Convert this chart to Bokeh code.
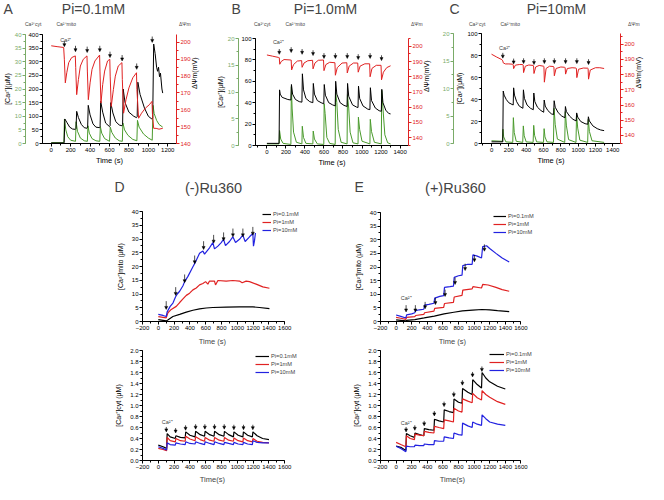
import math
from bokeh.plotting import figure
from bokeh.models import (Range1d, LinearAxis, Legend, LegendItem, Label, Arrow, NormalHead,
                          ColumnDataSource, SingleIntervalTicker, Spacer, PrintfTickFormatter, Title)
from bokeh.layouts import row, column
from bokeh.embed import file_html
from bokeh.resources import INLINE

# ======================= DATA =======================
a_t_cyt = [0, 130, 136, 150, 170, 200, 250, 256, 270, 300, 340, 372, 378, 392, 420, 460, 500,
           506, 520, 550, 600, 608, 625, 660, 700, 732, 738, 755, 790, 840, 882, 888, 905, 950,
           1000, 1040, 1048, 1060, 1085, 1110, 1148]
a_cyt = [0.3, 0.3, 9, 5, 2.5, 1.2, 0.8, 8, 4.5, 2, 1, 0.8, 6.5, 3.8, 1.8, 1, 0.8,
         6.2, 3.8, 1.8, 0.8, 6, 4, 2, 1, 0.8, 7.5, 5, 3, 1.5, 1, 8.5, 6, 3.5,
         2, 1.2, 14, 11, 8.5, 7, 6]
a_t_mito = [0, 125, 133, 140, 160, 190, 220, 248, 255, 262, 280, 310, 340, 368, 375, 381, 400,
            430, 460, 498, 503, 509, 530, 560, 600, 606, 613, 635, 665, 700, 728, 735, 741, 760,
            800, 850, 878, 885, 892, 915, 960, 1000, 1035, 1045, 1055, 1070, 1085, 1095, 1105,
            1115, 1125, 1140, 1148]
a_mito = [2, 2, 3, 90, 78, 60, 53, 52, 55, 118, 95, 70, 58, 56, 60, 140, 105,
          72, 60, 58, 62, 155, 115, 75, 62, 65, 150, 112, 80, 68, 65, 70, 200, 150,
          115, 100, 95, 98, 225, 180, 130, 100, 90, 95, 365, 330, 280, 265, 280,
          245, 258, 200, 185]
a_t_psi = [0, 60, 128, 135, 145, 160, 180, 210, 248, 252, 262, 280, 300, 330, 368, 372, 382,
           400, 420, 450, 498, 502, 512, 530, 550, 580, 603, 607, 618, 640, 660, 690, 728, 732,
           745, 770, 800, 840, 878, 882, 900, 930, 970, 1010, 1038, 1042, 1055, 1080, 1110, 1148]
a_psi = [198, 197.5, 197, 190, 176, 182, 188, 191, 192, 185, 169, 178, 186, 190, 192, 183, 166,
         176, 184, 189, 192.5, 183, 164, 175, 183, 189, 190, 180, 162, 172, 180, 186, 188, 178,
         158, 166, 173, 179, 182, 172, 155, 158, 161, 163, 165, 158, 149, 149, 148.5, 149]
a_add_t = [135, 250, 370, 500, 605, 730, 880, 1040]
a_add_psi = [197.5, 194.5, 194, 194.5, 191, 189, 184, 200]

b_t_cyt = [0, 128, 133, 145, 170, 252, 257, 265, 280, 310, 368, 372, 385, 410, 483, 487, 500,
           530, 598, 602, 612, 630, 660, 718, 722, 735, 750, 780, 843, 847, 860, 875, 905, 958,
           962, 975, 1000, 1083, 1087, 1100, 1130, 1203, 1207, 1220, 1240, 1270, 1300]
b_cyt = [0.3, 0.3, 2.8, 1.2, 0.4, 0.2, 11, 7, 2.5, 0.6, 0.3, 3.6, 1.5, 0.4, 0.3, 2.7, 1.2,
         0.3, 0.2, 7.8, 6, 1.5, 0.4, 0.2, 10, 8, 3, 0.6, 0.3, 9.5, 7, 2.5, 0.5, 0.3,
         5.3, 3, 0.8, 0.3, 4.9, 2.6, 0.6, 0.3, 10.3, 7, 2, 0.5, 0.3]
b_t_mito = [0, 128, 133, 140, 160, 190, 220, 252, 258, 270, 300, 340, 368, 373, 385, 410, 450,
            483, 488, 500, 530, 570, 598, 603, 615, 650, 690, 718, 723, 735, 770, 810, 843, 848,
            860, 900, 940, 958, 963, 975, 1010, 1060, 1083, 1088, 1100, 1140, 1180, 1203, 1208,
            1220, 1250, 1280, 1300]
b_mito = [2, 2, 52, 48, 45, 44, 43, 42.5, 57, 48, 43, 41, 40.5, 67, 52, 44, 41,
          40, 58, 48, 42, 40, 39, 57, 47, 40, 38, 37, 60, 48, 40, 37.5, 36.5, 58,
          46, 38, 36, 35.5, 55.5, 44, 37, 34, 33.5, 54, 42, 35, 32.5, 32, 52.5,
          40, 33, 30, 29.5]
b_t_psi = [0, 60, 120, 130, 135, 150, 180, 250, 255, 260, 280, 320, 365, 370, 390, 430, 480,
           485, 505, 540, 595, 600, 620, 660, 715, 720, 740, 790, 840, 845, 865, 910, 955, 960,
           980, 1030, 1080, 1085, 1105, 1150, 1200, 1205, 1225, 1260, 1300]
b_psi = [194.3, 193.5, 192.7, 192.5, 188.2, 190, 191.3, 191, 191, 184.5, 188, 190.3, 190.6,
         186.2, 189, 190.5, 190.8, 185.2, 189, 190.8, 191, 184, 188, 189.5, 189.2, 181, 186,
         189, 189.2, 182.5, 187, 189, 189, 183, 187, 188.5, 188.5, 180, 185.5, 187.5, 187.5,
         178, 183, 186, 187.2]
b_add_t = [130, 255, 370, 485, 600, 720, 845, 960, 1085, 1205]
b_add_psi = [194.7, 195.9, 194.7, 193.9, 192, 192, 192, 191.3, 192, 190.6]

c_t_cyt = [0, 125, 132, 140, 165, 245, 252, 262, 285, 360, 367, 377, 400, 480, 487, 497, 520,
           600, 607, 617, 640, 715, 722, 735, 760, 845, 852, 865, 890, 975, 982, 995, 1020,
           1110, 1117, 1130, 1160, 1300]
c_cyt = [0.5, 0.4, 2.6, 1.2, 0.3, 0.2, 4.7, 2, 0.4, 0.2, 3.2, 1.4, 0.3, 0.2, 3.3, 1.5, 0.3,
         0.2, 2.7, 1.2, 0.3, 0.2, 6.4, 3.5, 0.8, 0.2, 5.8, 3.2, 0.7, 0.2, 5.3, 2.8, 0.6,
         0.2, 4.4, 2.2, 0.5, 0.2]
c_t_mito = [0, 130, 135, 145, 170, 200, 250, 255, 265, 290, 320, 362, 368, 380, 410, 450, 482,
            488, 500, 530, 570, 602, 608, 620, 650, 690, 717, 723, 735, 770, 810, 847, 853, 865,
            900, 940, 977, 983, 995, 1030, 1080, 1112, 1118, 1130, 1170, 1220, 1260, 1300]
c_mito = [1.5, 1.5, 47.7, 44, 40, 37, 35, 50.6, 44, 38, 34, 32, 48.8, 41, 35, 32, 30.7,
          45.9, 38, 33, 30, 28.4, 39.5, 34, 30, 27, 26.3, 38.9, 33, 28, 25, 23.4, 33.6, 29,
          25, 22, 20.5, 27.8, 24, 20, 18, 17.5, 24.3, 20.5, 16, 13.5, 12.3, 11.7]
c_t_psi = [0, 60, 120, 130, 135, 160, 200, 245, 250, 255, 275, 320, 360, 365, 370, 390, 430,
           480, 485, 490, 510, 550, 600, 605, 610, 630, 670, 715, 720, 725, 745, 800, 845, 850,
           855, 875, 930, 975, 980, 985, 1005, 1060, 1110, 1115, 1120, 1140, 1200, 1250, 1300]
c_psi = [193.4, 191.5, 189.8, 189, 187.7, 187, 187, 186.8, 186.5, 183.9, 186.2, 186.6, 186.6,
         186.3, 181.3, 185.5, 186.3, 186, 185.8, 180.7, 185, 186, 185.5, 185.3, 175, 184, 185.5,
         185.3, 185, 179.2, 184, 185, 184.8, 184.5, 180.3, 184, 184.5, 184.3, 184, 178, 183.5,
         184.3, 184.2, 184, 177, 183, 184.5, 184.5, 184]
c_add_t = [130, 255, 370, 490, 610, 725, 855, 985, 1120]
c_add_psi = [190.8, 187, 187.2, 186.6, 187.2, 187.2, 187.2, 187.2, 186.6]

d_mito_t_01 = [0, 100, 125, 185, 270, 354, 438, 522, 606, 690, 859, 1027, 1196, 1280, 1406]
d_mito_01 = [0.7, 0.2, 0.6, 1.8, 2.6, 3.4, 4.1, 4.6, 4.9, 5.1, 5.2, 5.3, 5.3, 5.1, 4.7]
d_mito_t_1 = [0, 60, 100, 122, 164, 227, 270, 312, 354, 396, 438, 480, 522, 564, 598, 627, 648,
              711, 724, 754, 859, 943, 1027, 1061, 1111, 1154, 1238, 1322, 1406]
d_mito_1 = [1.8, 1.5, 1.3, 3.2, 4.4, 5.5, 6.9, 8.2, 9.5, 10.3, 11.5, 12.2, 13.3, 13.8, 14.5,
            13.6, 14.7, 14.7, 13.3, 14.9, 14.7, 14.9, 14.7, 14.1, 14.7, 14.5, 13.6, 12.6, 12.1]
d_mito_t_10 = [0, 60, 100, 112, 150, 185, 219, 240, 270, 312, 333, 375, 438, 470, 522, 564, 585,
               615, 648, 690, 711, 754, 796, 825, 850, 901, 943, 977, 1027, 1069, 1099, 1154,
               1196, 1204, 1217, 1229]
d_mito_10 = [2.6, 2.2, 1.8, 3.5, 5.5, 6.7, 9, 10, 11, 13, 14.5, 16.4, 19.9, 21.6, 24.8, 25.6,
             24.5, 25.6, 26.8, 28.7, 26.4, 27.4, 28.7, 29.9, 27.6, 29.1, 30.8, 28.7, 29.9, 31.4,
             29.1, 30.8, 32, 27.4, 29.4, 32.2]
d_mito_add_t = [100, 220, 333, 460, 573, 700, 826, 944, 1070, 1196]
d_mito_add_v = [4.4, 9.5, 14.1, 21, 26.2, 28.5, 29.4, 30.8, 30.8, 31.4]

d_cyt_t = [0, 60, 105, 112, 150, 215, 222, 280, 340, 347, 400, 465, 472, 530, 585, 592, 650,
           705, 712, 770, 830, 837, 890, 950, 957, 1010, 1070, 1077, 1130, 1190, 1197, 1250,
           1320, 1400]
d_cyt_01 = [0.28, 0.25, 0.22, 0.49, 0.43, 0.40, 0.45, 0.42, 0.41, 0.52, 0.46, 0.43, 0.53, 0.47,
            0.44, 0.53, 0.47, 0.44, 0.53, 0.47, 0.44, 0.53, 0.47, 0.43, 0.52, 0.46, 0.43, 0.52,
            0.46, 0.43, 0.52, 0.45, 0.40, 0.38]
d_cyt_1 = [0.22, 0.20, 0.18, 0.42, 0.36, 0.34, 0.40, 0.36, 0.35, 0.44, 0.39, 0.36, 0.43, 0.38,
           0.35, 0.42, 0.37, 0.35, 0.42, 0.37, 0.35, 0.42, 0.37, 0.35, 0.41, 0.36, 0.34, 0.41,
           0.36, 0.34, 0.40, 0.35, 0.33, 0.32]
d_cyt_10 = [0.25, 0.22, 0.19, 0.32, 0.29, 0.28, 0.32, 0.30, 0.29, 0.34, 0.31, 0.30, 0.34, 0.31,
            0.29, 0.34, 0.31, 0.29, 0.34, 0.31, 0.29, 0.33, 0.31, 0.29, 0.33, 0.30, 0.29, 0.33,
            0.30, 0.29, 0.36, 0.33, 0.32, 0.32]
d_cyt_add_t = [101, 219, 345, 472, 589, 711, 834, 956, 1078, 1196]
d_cyt_add_v = [0.52, 0.50, 0.55, 0.57, 0.57, 0.57, 0.57, 0.56, 0.56, 0.56]

e_mito_t_01 = [0, 125, 135, 240, 360, 490, 615, 740, 850, 980, 1100, 1200, 1300, 1450]
e_mito_01 = [0.6, 0.2, 0.4, 0.7, 1.3, 2.0, 2.8, 3.4, 3.9, 4.2, 4.4, 4.3, 4.0, 3.6]
e_mito_t_1 = [0, 60, 125, 135, 240, 250, 355, 365, 485, 495, 610, 620, 735, 745, 845, 855, 975,
              985, 1095, 1110, 1180, 1280, 1360, 1450]
e_mito_1 = [1.5, 1.2, 0.8, 1.5, 1.8, 2.2, 2.6, 3.2, 3.8, 4.8, 5.2, 6.6, 7, 9, 9.6, 11.5, 12,
            12.8, 12.3, 13.6, 13.4, 12.5, 11.7, 11.1]
e_mito_t_10 = [0, 60, 125, 135, 200, 240, 250, 300, 355, 365, 420, 485, 495, 560, 610, 620, 690,
               735, 745, 800, 845, 855, 920, 975, 985, 1040, 1095, 1110, 1160, 1200, 1280, 1360,
               1450]
e_mito_10 = [2.4, 1.9, 1.3, 2.4, 2.8, 3.2, 4.0, 4.3, 4.5, 6, 6.3, 6.7, 8.6, 9.2, 9.5, 12.5, 12.8,
             13, 16.2, 16.8, 17, 20.5, 21, 21, 24.5, 24, 23.3, 27.5, 27.8, 26.8, 25, 23.3, 21.8]
e_mito_add_t = [128, 247, 372, 504, 628, 756, 885, 1004, 1132]
e_mito_add_v = [3.5, 3.5, 4.7, 6.2, 9.2, 13.6, 18.7, 21.9, 25.8]

e_cyt_t = [0, 60, 125, 132, 180, 235, 242, 300, 355, 362, 420, 485, 492, 550, 610, 617, 680,
           735, 742, 800, 845, 852, 920, 975, 982, 1040, 1095, 1102, 1150, 1200, 1300, 1400]
e_cyt_01 = [0.26, 0.24, 0.18, 0.49, 0.45, 0.42, 0.50, 0.47, 0.45, 0.58, 0.56, 0.55, 0.75, 0.72,
            0.70, 0.92, 0.89, 0.87, 1.12, 1.06, 1.04, 1.31, 1.24, 1.20, 1.47, 1.38, 1.32, 1.60,
            1.50, 1.43, 1.35, 1.30]
e_cyt_1 = [0.33, 0.29, 0.25, 0.45, 0.40, 0.38, 0.48, 0.46, 0.45, 0.53, 0.51, 0.50, 0.62, 0.60,
           0.58, 0.74, 0.72, 0.70, 0.95, 0.90, 0.88, 1.12, 1.08, 1.05, 1.22, 1.14, 1.10, 1.27,
           1.20, 1.15, 1.07, 1.02]
e_cyt_10 = [0.26, 0.22, 0.16, 0.26, 0.25, 0.25, 0.28, 0.27, 0.27, 0.30, 0.29, 0.29, 0.36, 0.35,
            0.35, 0.43, 0.41, 0.40, 0.50, 0.47, 0.46, 0.68, 0.63, 0.60, 0.70, 0.66, 0.64, 0.83,
            0.76, 0.70, 0.66, 0.64]
e_cyt_add_t = [128, 240, 360, 490, 615, 740, 850, 980, 1100]
e_cyt_add_v = [0.52, 0.55, 0.63, 0.81, 0.98, 1.16, 1.37, 1.52, 1.62]

pi_labels = ["Pi=0.1mM", "Pi=1mM", "Pi=10mM"]

# ======================= STYLE / LAYOUT =======================
SX = 648 / 664
SY = 484 / 500


def X(v):
    return int(round(v * SX))


def Y(v):
    return int(round(v * SY))


FONT = "Liberation Sans"
GREEN = "#4a9a2c"
AXGREEN = "#7aab68"
RED = "#e02222"
BLUE = "#2222e0"
BLACK = "#000000"
TICK_PX = 6.0


def no_align(p):
    try:
        p.frame_align = False
    except Exception:
        pass


def base_fig(box, frame, xr, yr, ext_right=None, pad_right_px=0.0, left_trim=0):
    bx0, by0, bx1, by1 = box
    fx0, fy0, fx1, fy1 = frame
    right = fx1 if ext_right is None else ext_right
    x0, x1 = xr
    upp = (xr[1] - xr[0]) / (X(fx1) - X(fx0))
    if ext_right is not None:
        x1 = xr[1] + (X(ext_right) - X(fx1)) * upp
    x1 = x1 + pad_right_px * upp
    p = figure(width=X(bx1) - X(bx0), height=Y(by1) - Y(by0),
               x_range=Range1d(x0, x1), y_range=Range1d(*yr),
               min_border_left=max(0, X(fx0) - X(bx0) - left_trim),
               min_border_right=X(bx1) - X(right),
               min_border_top=Y(fy0) - Y(by0), min_border_bottom=Y(by1) - Y(fy1),
               output_backend="svg", toolbar_location=None, title=None)
    no_align(p)
    p.outline_line_color = None
    p.xgrid.visible = False
    p.ygrid.visible = False
    p.background_fill_color = "white"
    p.border_fill_color = "white"
    return p


def style_axis(ax, color, size="6px", lab_size="7px"):
    ax.axis_line_color = color
    ax.major_tick_line_color = color
    ax.minor_tick_line_color = color
    ax.major_label_text_color = color
    ax.axis_label_text_color = "black"
    ax.major_tick_out = 3
    ax.major_tick_in = 0
    ax.minor_tick_out = 2
    ax.minor_tick_in = 0
    ax.major_label_standoff = 1
    ax.axis_label_standoff = 1
    ax.major_label_text_font = FONT
    ax.major_label_text_font_size = size
    ax.axis_label_text_font = FONT
    ax.axis_label_text_font_size = lab_size
    ax.axis_label_text_font_style = "normal"


def add_arrows(p, ts, tips, length, y_range_name="default"):
    src = ColumnDataSource(dict(x0=ts, y0=[v + length for v in tips], x1=ts, y1=tips))
    p.add_layout(Arrow(end=NormalHead(size=3, line_color="black", fill_color="black",
                                      line_width=0.5),
                       x_start="x0", y_start="y0", x_end="x1", y_end="y1", source=src,
                       line_width=0.7, line_color="black", y_range_name=y_range_name))


def legend(items, loc, orientation, gw, gh, fs, spacing):
    return Legend(items=items, location=loc, orientation=orientation,
                  glyph_width=gw, glyph_height=gh, label_height=gh, label_width=5,
                  label_text_font=FONT, label_text_font_size=fs, label_standoff=2,
                  spacing=spacing, padding=0, margin=0, border_line_color=None,
                  background_fill_alpha=0)


def header(x0, y0, x1, y1):
    w = X(x1) - X(x0)
    h = Y(y1) - Y(y0)
    p = figure(width=w, height=h, x_range=Range1d(0, w), y_range=Range1d(0, h),
               x_axis_type=None, y_axis_type=None, min_border=0,
               output_backend="svg", toolbar_location=None, title=None)
    no_align(p)
    p.outline_line_color = None
    p.xgrid.visible = False
    p.ygrid.visible = False
    p.border_fill_color = "white"
    p.background_fill_color = "white"
    return p, (x0, y0, h)


def h_text(hd, org, ox, oy, text, size, align="left"):
    x0, y0, h = org
    hd.add_layout(Label(x=X(ox) - X(x0), y=h - (Y(oy) - Y(y0)), text=text, text_font=FONT,
                        text_font_size=size, text_align=align, text_baseline="middle"))


def h_legend(hd, org, ox, oy_bottom, entries, gw, gh, fs, spacing):
    x0, y0, h = org
    items = []
    for lab, col in entries:
        r = hd.line(x=[], y=[], line_color=col, line_width=1)
        items.append(LegendItem(label=lab, renderers=[r]))
    hd.add_layout(legend(items, (X(ox) - X(x0), h - (Y(oy_bottom) - Y(y0))), "horizontal",
                         gw, gh, fs, spacing))


def top_panel(box, frame, xr, mito_max, mito_step, cyt_max, cyt_step, psi_rng,
              t_cyt, v_cyt, t_mito, v_mito, t_psi, v_psi, add_t, add_psi, ca_xy, label_on_black,
              pad_px, left_trim):
    p = base_fig(box, frame, xr, (0, mito_max), pad_right_px=pad_px, left_trim=left_trim)
    p.extra_y_ranges = {"g": Range1d(0, cyt_max), "r": Range1d(*psi_rng)}
    bl = p.yaxis[0]
    bl.ticker = SingleIntervalTicker(interval=mito_step, num_minor_ticks=2)
    style_axis(bl, BLACK)
    gax = LinearAxis(y_range_name="g",
                     ticker=SingleIntervalTicker(interval=cyt_step, num_minor_ticks=2))
    style_axis(gax, AXGREEN)
    p.add_layout(gax, "left")
    if label_on_black:
        bl.axis_label = "[Ca²⁺](μM)"
    else:
        gax.axis_label = "[Ca²⁺](μM)"
    rax = LinearAxis(y_range_name="r", ticker=SingleIntervalTicker(interval=10, num_minor_ticks=2))
    style_axis(rax, RED)
    rax.axis_label = "ΔΨm(mV)"
    try:
        rax.axis_label_orientation = math.pi / 2
    except Exception:
        pass
    p.add_layout(rax, "right")
    xa = p.xaxis[0]
    xa.ticker = SingleIntervalTicker(interval=200, num_minor_ticks=2)
    style_axis(xa, BLACK, lab_size="7.5px")
    xa.axis_label = "Time (s)"

    p.line(t_cyt, v_cyt, y_range_name="g", line_color=GREEN, line_width=1)
    p.line(t_mito, v_mito, line_color=BLACK, line_width=1)
    p.line(t_psi, v_psi, y_range_name="r", line_color=RED, line_width=1)

    add_arrows(p, add_t, add_psi, 3.5, "r")
    p.add_layout(Label(x=ca_xy[0], y=ca_xy[1], y_range_name="r", text="Ca²⁺", text_font=FONT,
                       text_font_size="5.5px", text_align="center", text_baseline="middle"))
    return p


def bottom_panel(box, frame, ext_right, yr, ystep, fmt, ylabel, xlabel, xlabel_center, series,
                 add_t, add_v, add_len, ca_xy, leg_x, leg_bottom, gw, gh, xt_standoff, left_trim):
    fx0, fy0, fx1, fy1 = frame
    p = base_fig(box, frame, (-200, 1600), yr, ext_right=ext_right, left_trim=left_trim)
    ya = p.yaxis[0]
    ya.ticker = SingleIntervalTicker(interval=ystep, num_minor_ticks=2)
    if fmt:
        ya.formatter = PrintfTickFormatter(format=fmt)
    style_axis(ya, BLACK, lab_size="7px")
    ya.axis_label = ylabel
    ya.axis_label_standoff = 5
    ya.bounds = yr
    xa = p.xaxis[0]
    xa.ticker = SingleIntervalTicker(interval=200, num_minor_ticks=2)
    style_axis(xa, BLACK)
    xa.bounds = (-200, 1600)
    tw = 7.5 * (3.67 if " " in xlabel else 3.39)
    p.add_layout(Title(text=xlabel, align="left", offset=X(xlabel_center) - X(fx0) - tw / 2,
                       standoff=xt_standoff, text_font=FONT, text_font_size="7.5px",
                       text_font_style="normal"), "below")
    items = []
    for (t, v, col, lab) in series:
        r = p.line(t, v, line_color=col, line_width=1.2)
        items.append(LegendItem(label=lab, renderers=[r]))
    add_arrows(p, add_t, add_v, add_len)
    if ca_xy is not None:
        p.add_layout(Label(x=ca_xy[0], y=ca_xy[1], text="Ca²⁺", text_font=FONT,
                           text_font_size="5.5px", text_align="center", text_baseline="middle"))
    p.add_layout(legend(items, (X(leg_x) - X(fx0), Y(fy1) - Y(leg_bottom)), "vertical",
                        gw, gh, "5.7px", 0))
    return p


TOP_H = 30
hdT, orgT = header(0, 0, 664, TOP_H)
for letter, lx, title, tx in [("A", 3, "Pi=0.1mM", 95), ("B", 237, "Pi=1.0mM", 333),
                              ("C", 460, "Pi=10mM", 570)]:
    h_text(hdT, orgT, lx, 8, letter, "14px")
    h_text(hdT, orgT, tx, 8, title, "14px", align="center")
for gx, bx, rx in [(13, 43, 172), (248, 278, 410), (468, 497, 632)]:
    h_legend(hdT, orgT, gx, 27.5, [("Ca²⁺cyt", GREEN), ("Ca²⁺mito", BLACK)], 10, 7, "5px", 3)
    h_legend(hdT, orgT, rx, 27.5, [("ΔΨm", RED)], 9, 7, "5px", 3)

HALF_LABEL = 4 * 0.556 * TICK_PX / 2 + 1.5

pA = top_panel((0, TOP_H, 218, 175), (40, 35, 180, 148), (-90, 1290), 400, 50, 40, 5,
               (140, 204.7), a_t_cyt, a_cyt, a_t_mito, a_mito, a_t_psi, a_psi,
               a_add_t, a_add_psi, (150, 201.5), False, 0.0, 7)
pB = top_panel((218, TOP_H, 450, 175), (275, 39, 418, 154), (-120, 1400), 100, 20, 20, 5,
               (134.9, 205.1), b_t_cyt, b_cyt, b_t_mito, b_mito, b_t_psi, b_psi,
               b_add_t, b_add_psi, (120, 202.5), False, HALF_LABEL, 15)
pC = top_panel((450, TOP_H, 664, 175), (498, 34, 640, 148), (-116, 1400), 100, 20, 20, 5,
               (134.7, 207), c_t_cyt, c_cyt, c_t_mito, c_mito, c_t_psi, c_psi,
               c_add_t, c_add_psi, (150, 197.5), True, HALF_LABEL, 11)

BOT_H0, BOT_H1 = 175, 206
hdB, orgB = header(100, BOT_H0, 664, BOT_H1)
h_text(hdB, orgB, 117, 192, "D", "14px")
h_text(hdB, orgB, 218, 193, "(-)Ru360", "14.5px", align="center")
h_text(hdB, orgB, 363, 192, "E", "14px")
h_text(hdB, orgB, 466, 193, "(+)Ru360", "14.5px", align="center")

pD1 = bottom_panel((100, BOT_H1, 345, 358), (149, 218, 292, 334), 338, (0, 40), 5, None,
                   "[Ca²⁺]mito (μM)", "Time (s)", 220.7,
                   [(d_mito_t_01, d_mito_01, BLACK, pi_labels[0]),
                    (d_mito_t_1, d_mito_1, RED, pi_labels[1]),
                    (d_mito_t_10, d_mito_10, BLUE, pi_labels[2])],
                   d_mito_add_t, d_mito_add_v, 3, None, 272, 244, 9, 8, 4, 3)
pD2 = bottom_panel((100, 358, 345, 500), (149, 362, 292, 477), 338, (0, 2.0), 0.2, "%.1f",
                   "[Ca²⁺]cyt (μM)", "Time(s)", 220.7,
                   [(d_cyt_t, d_cyt_01, BLACK, pi_labels[0]),
                    (d_cyt_t, d_cyt_1, RED, pi_labels[1]),
                    (d_cyt_t, d_cyt_10, BLUE, pi_labels[2])],
                   d_cyt_add_t, d_cyt_add_v, 0.09, (112, 0.70), 264, 391, 14, 8, 2, 3)
pE1 = bottom_panel((345, BOT_H1, 664, 358), (394, 219, 535, 332), 600, (0, 40), 5, None,
                   "[Ca²⁺]mito (μM)", "Time (s)", 468,
                   [(e_mito_t_01, e_mito_01, BLACK, pi_labels[0]),
                    (e_mito_t_1, e_mito_1, RED, pi_labels[1]),
                    (e_mito_t_10, e_mito_10, BLUE, pi_labels[2])],
                   e_mito_add_t, e_mito_add_v, 2.5, (128, 8.6), 510, 244, 13, 8, 4, 5)
pE2 = bottom_panel((345, 358, 664, 500), (394, 362, 535, 477), 600, (0, 2.0), 0.2, "%.1f",
                   "[Ca²⁺]cyt (μM)", "Time(s)", 468,
                   [(e_cyt_t, e_cyt_01, BLACK, pi_labels[0]),
                    (e_cyt_t, e_cyt_1, RED, pi_labels[1]),
                    (e_cyt_t, e_cyt_10, BLUE, pi_labels[2])],
                   e_cyt_add_t, e_cyt_add_v, 0.09, (128, 0.69), 506, 388, 15, 8, 2, 5)

layout = column(
    hdT,
    row(pA, pB, pC),
    row(Spacer(width=X(100), height=Y(BOT_H1) - Y(BOT_H0)), hdB),
    row(Spacer(width=X(100), height=Y(500) - Y(BOT_H1)),
        column(pD1, pD2), column(pE1, pE2)),
)

open("out.html", "w").write(file_html(layout, INLINE))
